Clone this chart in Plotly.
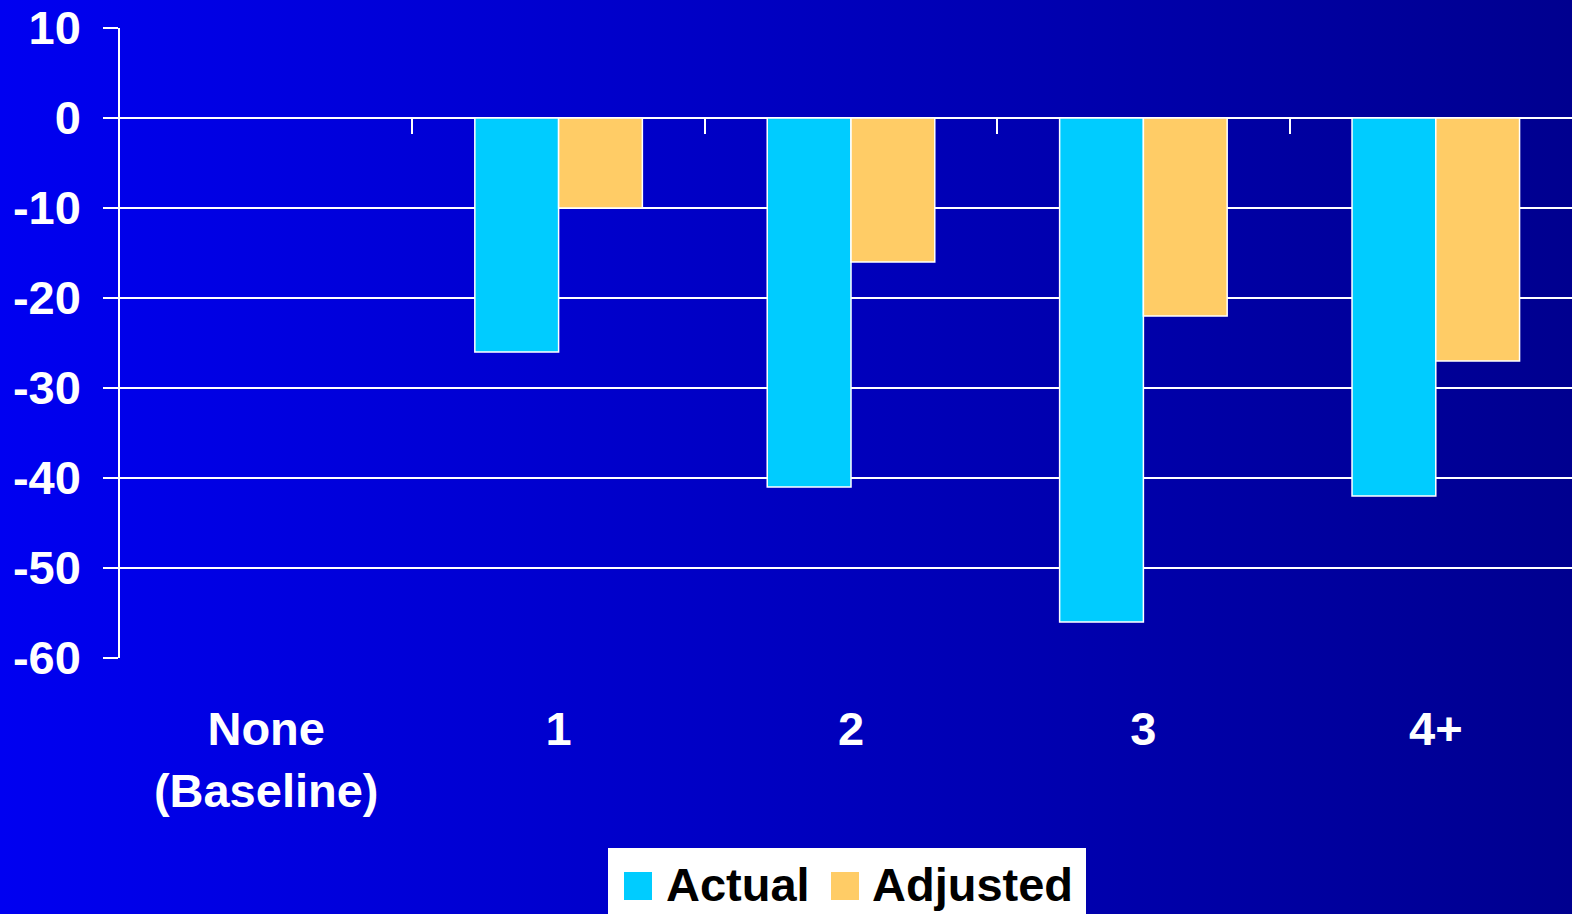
import base64
import plotly.graph_objects as go

# Chart data
categories = ["None<br>(Baseline)", "1", "2", "3", "4+"]
actual = [0, -26, -41, -56, -42]
adjusted = [0, -10, -16, -22, -27]
y_ticks = [10, 0, -10, -20, -30, -40, -50, -60]
y_tick_text = ["10", "0", "-10", "-20", "-30", "-40", "-50", "-60"]
series_names = ["Actual", "Adjusted"]
series_colors = ["#00CCFF", "#FFCC66"]

W, H = 1572, 914
PLOT_L, PLOT_R, PLOT_T, PLOT_B = 120, 1572, 28, 658
FONT = "Liberation Sans, Arial, sans-serif"


def px_x(p):
    return (p - PLOT_L) / (PLOT_R - PLOT_L)


def px_y(p):
    return (PLOT_B - p) / (PLOT_B - PLOT_T)


x_pos = list(range(len(categories)))

fig = go.Figure()
for name, vals, col in zip(series_names, [actual, adjusted], series_colors):
    fig.add_trace(go.Bar(
        x=x_pos, y=vals, name=name, showlegend=False,
        marker=dict(color=col, line=dict(color="white", width=1.5)),
    ))

# Category separator ticks hanging from the zero line
fig.add_trace(go.Scatter(x=[None], y=[None], xaxis="x2", showlegend=False))

# Horizontal gradient background (bright blue to navy)
svg = (
    '<svg xmlns="http://www.w3.org/2000/svg" width="1600" height="940" preserveAspectRatio="none">'
    '<defs><linearGradient id="g" x1="0" y1="0" x2="1" y2="0">'
    '<stop offset="0" stop-color="#0000F2"/><stop offset="1" stop-color="#00008E"/>'
    '</linearGradient></defs><rect width="1600" height="940" fill="url(#g)"/></svg>'
)
bg_src = "data:image/svg+xml;base64," + base64.b64encode(svg.encode()).decode()

CAT_PX = 292.4
x_range = [-0.5, -0.5 + (PLOT_R - PLOT_L) / CAT_PX]

fig.update_layout(
    width=W, height=H,
    margin=dict(l=PLOT_L, r=W - PLOT_R, t=PLOT_T, b=H - PLOT_B, pad=0),
    paper_bgcolor="#0000F0",
    plot_bgcolor="rgba(0,0,0,0)",
    barmode="group", bargap=0.427, bargroupgap=0,
    images=[dict(
        source=bg_src, xref="paper", yref="paper",
        x=px_x(-14), y=px_y(-13), sizex=px_x(W + 14) - px_x(-14),
        sizey=px_y(-13) - px_y(H + 13),
        xanchor="left", yanchor="top", sizing="stretch", layer="below",
    )],
    xaxis=dict(
        range=x_range, tickmode="array", tickvals=x_pos, ticktext=categories,
        showgrid=False, zeroline=False, showline=False,
        ticks="outside", ticklen=0, ticklabelstandoff=30,
        tickfont=dict(family=FONT, size=47, color="white", weight="bold"),
    ),
    xaxis2=dict(
        overlaying="x", anchor="free", position=px_y(PLOT_T + 90), side="bottom",
        range=x_range, tickmode="array", tickvals=[0.5, 1.5, 2.5, 3.5],
        showticklabels=False, showgrid=False, zeroline=False, showline=False,
        ticks="outside", ticklen=15, tickwidth=1.5, tickcolor="white",
    ),
    yaxis=dict(
        range=[-60, 10], tickmode="array", tickvals=y_ticks, ticktext=y_tick_text,
        showgrid=True, gridcolor="white", gridwidth=1.5,
        zeroline=False, showline=True, linecolor="white", linewidth=1.5,
        ticks="outside", ticklen=15, tickwidth=1.5, tickcolor="white",
        ticklabelstandoff=13,
        tickfont=dict(family=FONT, size=47, color="white", weight="bold"),
    ),
)

# Legend box drawn at the bottom centre
shapes = [dict(type="rect", xref="paper", yref="paper",
               x0=px_x(608), x1=px_x(1086), y0=px_y(920), y1=px_y(848),
               fillcolor="white", line=dict(width=0), layer="above")]
annotations = []
legend_items = [(624, 664), (831, 870)]
for (sq_x, tx_x), name, col in zip(legend_items, series_names, series_colors):
    shapes.append(dict(type="rect", xref="paper", yref="paper",
                       x0=px_x(sq_x), x1=px_x(sq_x + 28), y0=px_y(900), y1=px_y(872),
                       fillcolor=col, line=dict(width=0), layer="above"))
    annotations.append(dict(text=name, xref="paper", yref="paper",
                            x=px_x(tx_x), y=px_y(884), xanchor="left", yanchor="middle",
                            showarrow=False,
                            font=dict(family=FONT, size=47, color="black", weight="bold")))
fig.update_layout(shapes=shapes, annotations=annotations)

fig.write_html("out.html")
